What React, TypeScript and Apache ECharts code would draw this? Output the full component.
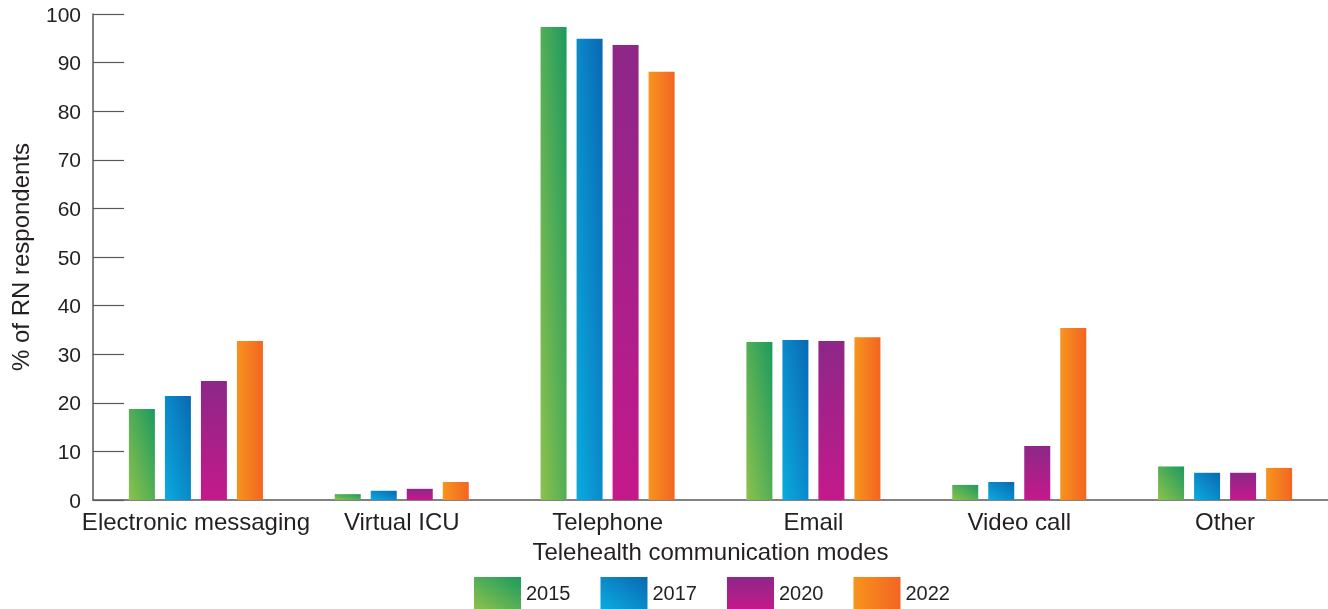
import React, { useEffect, useRef } from "react";
import * as echarts from "echarts";

const categories = ["Electronic messaging", "Virtual ICU", "Telephone", "Email", "Video call", "Other"];
const years = ["2015", "2017", "2020", "2022"];
const values2015 = [18.7, 1.2, 97.3, 32.5, 3.1, 6.9];
const values2017 = [21.4, 1.9, 94.9, 32.9, 3.7, 5.6];
const values2020 = [24.5, 2.3, 93.6, 32.7, 11.1, 5.6];
const values2022 = [32.7, 3.7, 88.1, 33.5, 35.4, 6.6];
const yTicks = { min: 0, max: 100, interval: 10 };

const FONT = "Liberation Sans";
const TEXT = "#231f20";

function grad(x: number, y: number, x2: number, y2: number, c0: string, c1: string) {
  return new echarts.graphic.LinearGradient(x, y, x2, y2, [
    { offset: 0, color: c0 },
    { offset: 1, color: c1 },
  ]);
}

export default function App() {
  const ref = useRef<HTMLDivElement>(null);
  useEffect(() => {
    if (!ref.current) return;
    const chart = echarts.init(ref.current, undefined, { renderer: "svg" });
    const colors = [
      grad(0, 1, 1, 0, "#8cc24c", "#1c9a5f"),
      grad(0, 1, 1, 0, "#0aabe0", "#0a68b2"),
      grad(0, 1, 0, 0, "#c4198b", "#8d2788"),
      grad(0, 0, 1, 0, "#f7941d", "#f26522"),
    ];
    const data = [values2015, values2017, values2020, values2022];
    chart.setOption({
      animation: false,
      grid: { left: 93, right: 0, top: 14, bottom: 109, containLabel: false },
      legend: {
        left: 474,
        top: 577,
        padding: 0,
        itemWidth: 47,
        itemHeight: 32,
        itemGap: 30,
        icon: "rect",
        textStyle: { fontFamily: FONT, fontSize: 20, color: TEXT },
        data: years,
      },
      xAxis: {
        type: "category",
        data: categories,
        name: "Telehealth communication modes",
        nameLocation: "middle",
        nameGap: 39,
        nameTextStyle: { fontFamily: FONT, fontSize: 24, color: TEXT },
        axisLine: { show: true, lineStyle: { color: "#58595b", width: 1.5 } },
        axisTick: { show: false },
        axisLabel: { interval: 0, fontFamily: FONT, fontSize: 24, color: TEXT, margin: 9 },
      },
      yAxis: {
        type: "value",
        min: yTicks.min,
        max: yTicks.max,
        interval: yTicks.interval,
        name: "% of RN respondents",
        nameLocation: "middle",
        nameGap: 61,
        nameTextStyle: { fontFamily: FONT, fontSize: 24, color: TEXT },
        splitLine: { show: false },
        axisLine: { show: true, lineStyle: { color: "#58595b", width: 1.5 } },
        axisTick: { show: true, inside: true, length: 31, lineStyle: { color: "#58595b", width: 1.2 } },
        axisLabel: { fontFamily: FONT, fontSize: 21, color: TEXT, margin: 12 },
      },
      series: years.map((y, i) => ({
        name: y,
        type: "bar",
        data: data[i],
        barWidth: 26,
        barGap: "38.5%",
        itemStyle: { color: colors[i] },
      })),
    });
    return () => chart.dispose();
  }, []);
  return <div ref={ref} style={{ position: "fixed", left: 0, top: 0, width: 1328, height: 609 }} />;
}
